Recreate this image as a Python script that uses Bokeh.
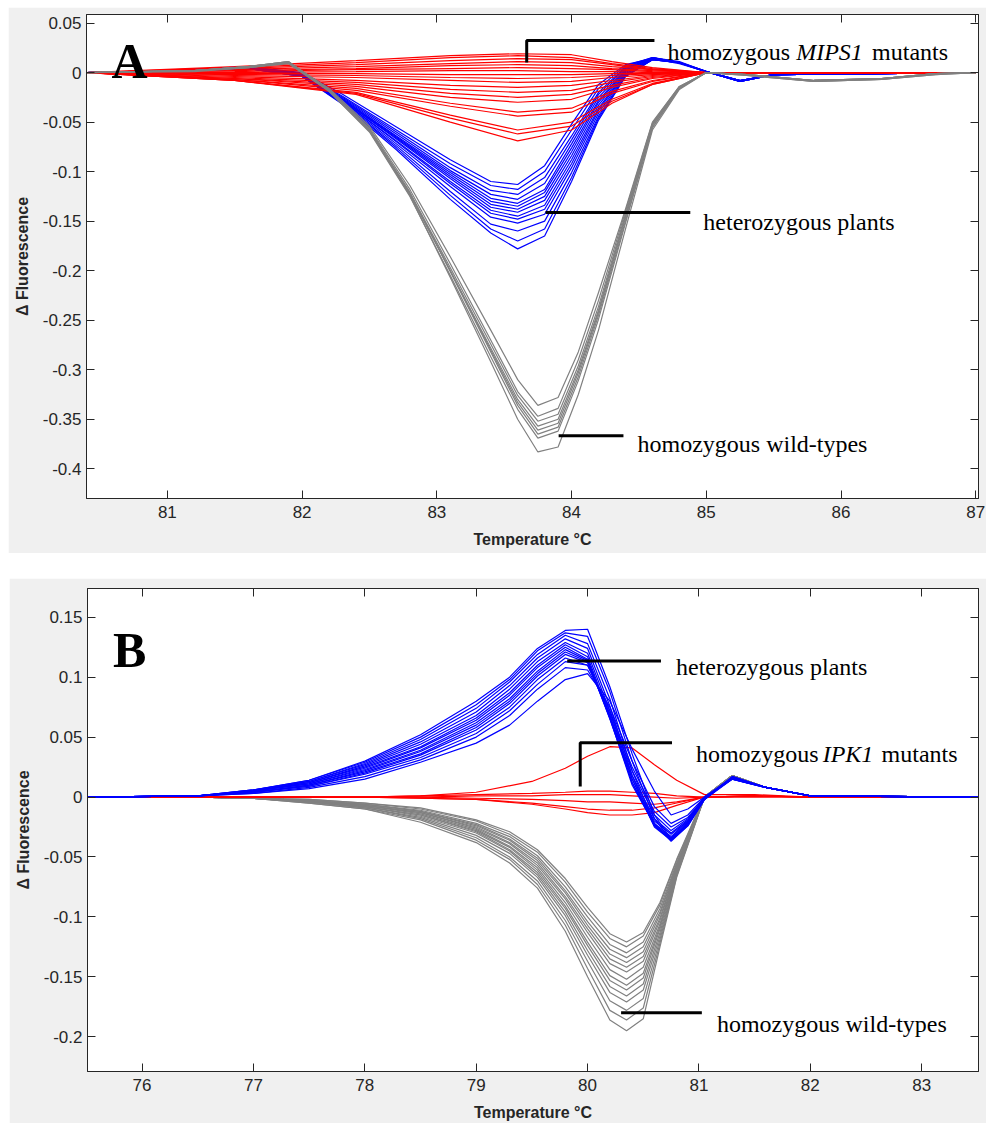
from bokeh.plotting import figure
from bokeh.models import ColumnDataSource, FixedTicker, LinearAxis, Label, Range1d
from bokeh.layouts import column
from bokeh.embed import file_html
from bokeh.resources import INLINE

# ---------------- Panel A data ----------------
A_X_TICKS = [81, 82, 83, 84, 85, 86, 87]
A_X_LABELS = ["81", "82", "83", "84", "85", "86", "87"]
A_Y_TICKS = [0.05, 0, -0.05, -0.1, -0.15, -0.2, -0.25, -0.3, -0.35, -0.4]
A_Y_LABELS = ["0.05", "0", "-0.05", "-0.1", "-0.15", "-0.2", "-0.25", "-0.3", "-0.35", "-0.4"]

A_T_GRAY = [80.4, 81.2, 81.6, 81.9, 82.2, 82.5, 82.8, 83.1, 83.4, 83.6, 83.75, 83.9,
            84.05, 84.2, 84.4, 84.6, 84.8, 85.0, 85.3, 85.8, 86.3, 86.7, 87.0]
A_GRAY = [
    [0, 0.002, 0.006, 0.010, -0.016, -0.054, -0.114, -0.186, -0.260, -0.310, -0.336, -0.328, -0.282, -0.222, -0.138, -0.050, -0.014, 0, -0.002, -0.008, -0.006, -0.001, 0],
    [0, 0.002, 0.006, 0.011, -0.017, -0.056, -0.118, -0.193, -0.270, -0.322, -0.347, -0.339, -0.290, -0.230, -0.140, -0.051, -0.014, 0, -0.002, -0.008, -0.006, -0.001, 0],
    [0, 0.002, 0.005, 0.010, -0.018, -0.058, -0.121, -0.197, -0.274, -0.326, -0.352, -0.345, -0.296, -0.236, -0.143, -0.052, -0.015, 0, -0.002, -0.009, -0.007, -0.001, 0],
    [0, 0.001, 0.005, 0.009, -0.019, -0.059, -0.123, -0.200, -0.278, -0.330, -0.357, -0.350, -0.300, -0.240, -0.145, -0.053, -0.015, 0, -0.003, -0.009, -0.007, -0.002, 0],
    [0, 0.002, 0.006, 0.010, -0.018, -0.058, -0.122, -0.200, -0.280, -0.333, -0.361, -0.354, -0.303, -0.242, -0.147, -0.053, -0.015, 0, -0.002, -0.008, -0.006, -0.001, 0],
    [0, 0.002, 0.006, 0.011, -0.017, -0.057, -0.121, -0.201, -0.282, -0.336, -0.365, -0.358, -0.307, -0.245, -0.150, -0.055, -0.016, 0, -0.002, -0.008, -0.006, -0.001, 0],
    [0, 0.002, 0.005, 0.010, -0.019, -0.060, -0.125, -0.205, -0.287, -0.340, -0.369, -0.362, -0.311, -0.249, -0.152, -0.056, -0.016, 0, -0.003, -0.009, -0.007, -0.002, 0],
    [0, 0.002, 0.006, 0.011, -0.018, -0.059, -0.124, -0.207, -0.292, -0.350, -0.383, -0.378, -0.325, -0.260, -0.158, -0.058, -0.017, 0, -0.002, -0.008, -0.006, -0.001, 0],
]

A_T_BLUE = [80.4, 81.0, 81.6, 82.0, 82.3, 82.7, 83.1, 83.4, 83.6, 83.8, 84.0, 84.2,
            84.4, 84.6, 84.8, 85.0, 85.25, 85.5, 87.0]
A_BLUE = [
    [0, 0.002, 0.006, 0.000, -0.022, -0.055, -0.088, -0.110, -0.113, -0.094, -0.052, -0.012, 0.008, 0.014, 0.009, 0.001, -0.008, -0.002, 0],
    [0, 0.002, 0.006, -0.001, -0.024, -0.058, -0.092, -0.114, -0.118, -0.100, -0.058, -0.016, 0.007, 0.015, 0.010, 0.001, -0.008, -0.002, 0],
    [0, 0.002, 0.005, -0.001, -0.025, -0.060, -0.096, -0.119, -0.123, -0.106, -0.064, -0.020, 0.006, 0.015, 0.010, 0.001, -0.009, -0.002, 0],
    [0, 0.002, 0.005, -0.002, -0.026, -0.062, -0.099, -0.123, -0.128, -0.112, -0.068, -0.022, 0.005, 0.014, 0.010, 0.001, -0.008, -0.002, 0],
    [0, 0.001, 0.005, -0.002, -0.027, -0.064, -0.101, -0.127, -0.132, -0.118, -0.072, -0.025, 0.004, 0.015, 0.010, 0.001, -0.008, -0.002, 0],
    [0, 0.002, 0.006, -0.002, -0.027, -0.065, -0.103, -0.130, -0.135, -0.121, -0.076, -0.028, 0.003, 0.014, 0.010, 0.001, -0.009, -0.002, 0],
    [0, 0.002, 0.005, -0.002, -0.028, -0.066, -0.105, -0.133, -0.138, -0.125, -0.080, -0.030, 0.002, 0.015, 0.011, 0.001, -0.008, -0.002, 0],
    [0, 0.001, 0.005, -0.003, -0.028, -0.067, -0.107, -0.136, -0.141, -0.129, -0.084, -0.033, 0.001, 0.014, 0.010, 0.001, -0.009, -0.002, 0],
    [0, 0.002, 0.005, -0.003, -0.029, -0.069, -0.110, -0.139, -0.145, -0.134, -0.088, -0.036, 0.000, 0.014, 0.010, 0.001, -0.008, -0.002, 0],
    [0, 0.001, 0.005, -0.003, -0.029, -0.070, -0.112, -0.142, -0.148, -0.138, -0.092, -0.038, -0.001, 0.013, 0.010, 0.001, -0.009, -0.002, 0],
    [0, 0.001, 0.004, -0.003, -0.030, -0.072, -0.115, -0.146, -0.152, -0.143, -0.096, -0.041, -0.002, 0.014, 0.010, 0.001, -0.008, -0.002, 0],
    [0, 0.001, 0.004, -0.004, -0.031, -0.074, -0.120, -0.153, -0.160, -0.150, -0.101, -0.044, -0.003, 0.013, 0.010, 0.001, -0.009, -0.002, 0],
    [0, 0.001, 0.004, -0.004, -0.031, -0.076, -0.124, -0.158, -0.170, -0.158, -0.106, -0.046, -0.004, 0.013, 0.010, 0.001, -0.009, -0.002, 0],
    [0, 0.001, 0.004, -0.004, -0.032, -0.078, -0.128, -0.162, -0.178, -0.165, -0.110, -0.048, -0.004, 0.013, 0.010, 0.001, -0.009, -0.002, 0],
]

A_T_RED = [80.4, 81.5, 82.4, 83.1, 83.6, 84.0, 84.3, 84.6, 85.0, 87.0]
A_RED = [
    [0, 0.006, 0.012, 0.017, 0.019, 0.018, 0.011, 0.005, 0.000, 0],
    [0, 0.005, 0.010, 0.015, 0.017, 0.015, 0.009, 0.004, 0.000, 0],
    [0, 0.004, 0.008, 0.012, 0.014, 0.013, 0.008, 0.003, 0.000, 0],
    [0, 0.003, 0.006, 0.009, 0.011, 0.010, 0.006, 0.003, 0.000, 0],
    [0, 0.002, 0.004, 0.007, 0.008, 0.007, 0.004, 0.002, 0.000, 0],
    [0, 0.001, 0.003, 0.004, 0.005, 0.004, 0.003, 0.001, 0.000, 0],
    [0, 0.000, 0.001, 0.002, 0.002, 0.001, 0.001, 0.000, 0.000, 0],
    [0, -0.001, -0.001, -0.002, -0.002, -0.002, -0.001, -0.001, 0.000, 0],
    [0, -0.002, -0.003, -0.005, -0.006, -0.005, -0.003, -0.001, 0.000, 0],
    [0, -0.003, -0.005, -0.008, -0.010, -0.009, -0.005, -0.002, 0.000, 0],
    [0, -0.004, -0.008, -0.013, -0.015, -0.013, -0.008, -0.003, 0.000, 0],
    [0, -0.005, -0.010, -0.017, -0.020, -0.018, -0.010, -0.004, 0.000, 0],
    [0, -0.006, -0.012, -0.021, -0.025, -0.022, -0.013, -0.005, 0.000, 0],
    [0, -0.006, -0.014, -0.025, -0.030, -0.027, -0.015, -0.006, 0.000, 0],
    [0, -0.007, -0.016, -0.031, -0.040, -0.036, -0.019, -0.008, 0.000, 0],
    [0, -0.007, -0.018, -0.034, -0.044, -0.040, -0.021, -0.009, 0.000, 0],
    [0, -0.008, -0.020, -0.043, -0.058, -0.050, -0.027, -0.011, 0.000, 0],
    [0, -0.008, -0.021, -0.046, -0.062, -0.054, -0.029, -0.012, 0.000, 0],
    [0, -0.008, -0.022, -0.050, -0.069, -0.058, -0.031, -0.012, 0.000, 0],
]

# annotation anchors, data units (x, y)
A_MIPS_BRACKET_X = [83.667, 83.667, 84.615]
A_MIPS_BRACKET_Y = [0.0101, 0.0323, 0.0323]
A_HET_LINE_X = [83.807, 84.881]
A_HET_LINE_Y = [-0.1414, -0.1414]
A_WT_LINE_X = [83.904, 84.385]
A_WT_LINE_Y = [-0.3667, -0.3667]

# ---------------- Panel B data ----------------
B_X_TICKS = [76, 77, 78, 79, 80, 81, 82, 83]
B_X_LABELS = ["76", "77", "78", "79", "80", "81", "82", "83"]
B_Y_TICKS = [0.15, 0.1, 0.05, 0, -0.05, -0.1, -0.15, -0.2]
B_Y_LABELS = ["0.15", "0.1", "0.05", "0", "-0.05", "-0.1", "-0.15", "-0.2"]

B_T_BLUE = [75.5, 76.5, 77.0, 77.5, 78.0, 78.5, 79.0, 79.3, 79.55, 79.8, 80.0, 80.2,
            80.4, 80.6, 80.75, 80.9, 81.05, 81.3, 81.6, 82.0, 83.5]
B_BLUE = [
    [0, 0.001, 0.003, 0.007, 0.015, 0.029, 0.045, 0.060, 0.080, 0.098, 0.103, 0.080, 0.040, 0.005, -0.015, -0.010, 0.000, 0.015, 0.008, 0.001, 0],
    [0, 0.001, 0.003, 0.008, 0.017, 0.031, 0.050, 0.068, 0.090, 0.108, 0.106, 0.075, 0.030, -0.008, -0.022, -0.015, 0.000, 0.016, 0.008, 0.001, 0],
    [0, 0.001, 0.004, 0.009, 0.019, 0.033, 0.053, 0.072, 0.094, 0.113, 0.110, 0.072, 0.025, -0.012, -0.025, -0.017, -0.001, 0.015, 0.008, 0.001, 0],
    [0, 0.001, 0.004, 0.009, 0.020, 0.035, 0.056, 0.075, 0.098, 0.116, 0.110, 0.070, 0.022, -0.015, -0.028, -0.018, -0.001, 0.016, 0.008, 0.001, 0],
    [0, 0.001, 0.004, 0.010, 0.021, 0.036, 0.058, 0.078, 0.101, 0.119, 0.112, 0.068, 0.018, -0.018, -0.030, -0.019, 0.000, 0.016, 0.008, 0.001, 0],
    [0, 0.001, 0.004, 0.010, 0.022, 0.038, 0.060, 0.080, 0.103, 0.121, 0.113, 0.066, 0.015, -0.020, -0.031, -0.020, -0.001, 0.015, 0.008, 0.001, 0],
    [0, 0.001, 0.005, 0.011, 0.023, 0.039, 0.062, 0.082, 0.105, 0.123, 0.114, 0.065, 0.012, -0.022, -0.033, -0.020, -0.001, 0.016, 0.008, 0.001, 0],
    [0, 0.001, 0.005, 0.011, 0.024, 0.041, 0.064, 0.085, 0.108, 0.125, 0.115, 0.066, 0.010, -0.023, -0.034, -0.021, -0.001, 0.016, 0.008, 0.001, 0],
    [0, 0.001, 0.005, 0.012, 0.025, 0.042, 0.066, 0.087, 0.110, 0.127, 0.117, 0.068, 0.012, -0.024, -0.035, -0.022, -0.002, 0.015, 0.008, 0.001, 0],
    [0, 0.001, 0.005, 0.012, 0.026, 0.044, 0.068, 0.090, 0.113, 0.129, 0.120, 0.072, 0.015, -0.025, -0.036, -0.022, -0.001, 0.016, 0.008, 0.001, 0],
    [0, 0.001, 0.005, 0.013, 0.027, 0.046, 0.071, 0.093, 0.116, 0.132, 0.124, 0.076, 0.018, -0.024, -0.036, -0.023, -0.002, 0.016, 0.008, 0.001, 0],
    [0, 0.001, 0.006, 0.013, 0.028, 0.048, 0.074, 0.096, 0.119, 0.135, 0.128, 0.082, 0.022, -0.022, -0.037, -0.024, -0.002, 0.017, 0.008, 0.001, 0],
    [0, 0.001, 0.006, 0.014, 0.029, 0.050, 0.077, 0.098, 0.122, 0.137, 0.134, 0.088, 0.030, -0.018, -0.036, -0.024, -0.002, 0.017, 0.008, 0.001, 0],
    [0, 0.001, 0.006, 0.014, 0.030, 0.052, 0.080, 0.100, 0.124, 0.139, 0.140, 0.092, 0.036, -0.015, -0.035, -0.023, -0.001, 0.017, 0.008, 0.001, 0],
]

B_T_GRAY = [75.5, 76.5, 77.0, 77.5, 78.0, 78.5, 79.0, 79.3, 79.55, 79.8, 80.0, 80.2,
            80.35, 80.5, 80.65, 80.8, 80.95, 81.05, 81.3, 81.6, 82.0, 83.5]
B_GRAY = [
    [0, 0, -0.001, -0.002, -0.005, -0.009, -0.019, -0.029, -0.044, -0.068, -0.092, -0.114, -0.121, -0.113, -0.088, -0.052, -0.020, 0.000, 0.018, 0.008, 0.001, 0],
    [0, 0, -0.001, -0.002, -0.005, -0.010, -0.020, -0.031, -0.046, -0.071, -0.096, -0.118, -0.125, -0.116, -0.090, -0.053, -0.021, 0.000, 0.018, 0.008, 0.001, 0],
    [0, 0, -0.001, -0.003, -0.006, -0.011, -0.022, -0.033, -0.049, -0.075, -0.100, -0.123, -0.130, -0.121, -0.093, -0.055, -0.021, 0.000, 0.018, 0.008, 0.001, 0],
    [0, 0, -0.001, -0.003, -0.006, -0.012, -0.023, -0.035, -0.051, -0.078, -0.104, -0.127, -0.134, -0.125, -0.096, -0.056, -0.022, 0.000, 0.018, 0.008, 0.001, 0],
    [0, 0, -0.001, -0.003, -0.006, -0.012, -0.024, -0.036, -0.053, -0.080, -0.107, -0.131, -0.138, -0.129, -0.098, -0.057, -0.022, 0.000, 0.018, 0.008, 0.001, 0],
    [0, 0, -0.001, -0.003, -0.007, -0.013, -0.025, -0.038, -0.055, -0.083, -0.110, -0.135, -0.142, -0.133, -0.101, -0.058, -0.023, 0.000, 0.018, 0.008, 0.001, 0],
    [0, 0, -0.001, -0.003, -0.007, -0.013, -0.026, -0.039, -0.057, -0.085, -0.113, -0.139, -0.146, -0.137, -0.103, -0.059, -0.023, 0.000, 0.018, 0.008, 0.001, 0],
    [0, 0, -0.001, -0.003, -0.007, -0.014, -0.027, -0.041, -0.059, -0.088, -0.117, -0.144, -0.152, -0.142, -0.106, -0.060, -0.024, 0.000, 0.018, 0.008, 0.001, 0],
    [0, 0, -0.001, -0.003, -0.008, -0.015, -0.028, -0.042, -0.061, -0.091, -0.121, -0.149, -0.157, -0.147, -0.108, -0.061, -0.024, 0.000, 0.018, 0.008, 0.001, 0],
    [0, 0, -0.001, -0.004, -0.008, -0.015, -0.029, -0.044, -0.063, -0.093, -0.124, -0.153, -0.161, -0.151, -0.110, -0.062, -0.025, 0.000, 0.018, 0.008, 0.001, 0],
    [0, 0, -0.001, -0.004, -0.008, -0.016, -0.030, -0.045, -0.065, -0.096, -0.128, -0.158, -0.166, -0.156, -0.113, -0.063, -0.025, 0.000, 0.018, 0.008, 0.001, 0],
    [0, 0, -0.001, -0.004, -0.009, -0.017, -0.032, -0.047, -0.067, -0.099, -0.132, -0.163, -0.171, -0.161, -0.116, -0.064, -0.025, 0.000, 0.018, 0.008, 0.001, 0],
    [0, 0, -0.001, -0.004, -0.009, -0.018, -0.034, -0.050, -0.070, -0.103, -0.137, -0.170, -0.178, -0.168, -0.119, -0.065, -0.026, 0.000, 0.018, 0.008, 0.001, 0],
    [0, 0, -0.001, -0.005, -0.010, -0.019, -0.036, -0.052, -0.073, -0.107, -0.143, -0.178, -0.186, -0.176, -0.122, -0.066, -0.026, 0.000, 0.018, 0.008, 0.001, 0],
    [0, 0, -0.001, -0.005, -0.010, -0.021, -0.038, -0.055, -0.076, -0.112, -0.150, -0.186, -0.195, -0.185, -0.125, -0.067, -0.027, 0.000, 0.018, 0.008, 0.001, 0],
]

B_T_RED = [75.5, 77.0, 78.0, 78.5, 79.0, 79.5, 79.8, 80.0, 80.2, 80.4, 80.6, 80.8,
           81.05, 81.5, 82.0, 83.5]
B_RED = [
    [0, 0, 0.000, 0.001, 0.004, 0.013, 0.024, 0.034, 0.042, 0.041, 0.027, 0.014, 0.002, 0.002, 0.000, 0],
    [0, 0, 0.000, -0.001, -0.002, -0.006, -0.010, -0.013, -0.015, -0.015, -0.013, -0.007, 0.000, 0.001, 0.000, 0],
    [0, 0, 0.000, -0.001, -0.002, -0.005, -0.008, -0.010, -0.011, -0.011, -0.009, -0.005, 0.000, 0.001, 0.000, 0],
    [0, 0, 0.000, 0.001, 0.002, 0.003, 0.004, 0.005, 0.005, 0.004, 0.003, 0.001, 0.000, 0.001, 0.000, 0],
    [0, 0, 0.000, 0.000, 0.001, 0.001, 0.002, 0.002, 0.002, 0.001, 0.000, -0.001, 0.000, 0.001, 0.000, 0],
    [0, 0, 0.000, 0.000, -0.001, -0.002, -0.003, -0.004, -0.004, -0.005, -0.006, -0.004, 0.000, 0.000, 0.000, 0],
]

B_IPK_BRACKET_X = [79.934, 79.934, 80.758]
B_IPK_BRACKET_Y = [0.00873, 0.0453, 0.0453]
B_HET_LINE_X = [79.817, 80.659]
B_HET_LINE_Y = [0.1135, 0.1135]
B_WT_LINE_X = [80.301, 81.026]
B_WT_LINE_Y = [-0.180, -0.180]

# ---------------- styling ----------------
AXC = "#262626"
RED = "#ff0000"
BLUE = "#0000ff"
GRAY = "#808080"
SERIF = "Liberation Serif"
SANS = "Liberation Sans"


def style_axis(ax, ticks, labels, show, standoff):
    ax.ticker = FixedTicker(ticks=ticks)
    if show:
        ax.major_label_overrides = dict(zip(ticks, labels))
        ax.major_label_text_font_size = "17px"
    else:
        ax.major_label_overrides = {t: "" for t in ticks}
        ax.major_label_text_font_size = "0px"
    ax.major_label_standoff = standoff if show else 0
    ax.major_tick_in = 8
    ax.major_tick_out = 0
    ax.minor_tick_line_color = None
    ax.major_tick_line_color = AXC
    ax.axis_line_color = AXC
    ax.major_label_text_font = SANS
    ax.major_label_text_color = AXC


def make_panel(width, height, xr, yr, borders, margin, xt, xl, yt, yl):
    p = figure(width=width, height=height, x_range=Range1d(*xr), y_range=Range1d(*yr),
               output_backend="svg", toolbar_location=None,
               min_border_left=borders[0], min_border_right=borders[1],
               min_border_top=borders[2], min_border_bottom=borders[3],
               border_fill_color="#f0f0f0", background_fill_color="white",
               outline_line_color=AXC, margin=margin)
    p.grid.visible = False
    bottom = p.xaxis[0]
    left = p.yaxis[0]
    style_axis(bottom, xt, xl, True, 7)
    style_axis(left, yt, yl, True, 5)
    bottom.axis_label = "Temperature \u00b0C"
    left.axis_label = "\u0394 Fluorescence"
    for ax, st in ((bottom, 10), (left, 9)):
        ax.axis_label_text_font = SANS
        ax.axis_label_text_font_style = "bold"
        ax.axis_label_text_font_size = "16px"
        ax.axis_label_text_color = AXC
        ax.axis_label_standoff = st
    top = LinearAxis()
    style_axis(top, xt, xl, False, 0)
    p.add_layout(top, "above")
    right = LinearAxis()
    style_axis(right, yt, yl, False, 0)
    p.add_layout(right, "right")
    return p


def add_group(p, xgrid, curves, color):
    src = ColumnDataSource(dict(xs=[xgrid] * len(curves), ys=curves))
    p.multi_line(xs="xs", ys="ys", source=src, line_color=color, line_width=1.2)


def add_text(p, x, y, text, style="normal", size="24px"):
    p.add_layout(Label(x=x, y=y, text=text, text_font=SERIF, text_font_style=style,
                       text_font_size=size, text_color="black",
                       text_align="left", text_baseline="alphabetic"))


# ---------------- Panel A ----------------
pA = make_panel(978, 546, (80.4, 87.02), (-0.430, 0.0586), (77, 8, 7, 55), (7, 0, 0, 8),
                A_X_TICKS, A_X_LABELS, A_Y_TICKS, A_Y_LABELS)
add_group(pA, A_T_BLUE, A_BLUE, BLUE)
add_group(pA, A_T_RED, A_RED, RED)
add_group(pA, A_T_GRAY, A_GRAY, GRAY)
pA.line(A_MIPS_BRACKET_X, A_MIPS_BRACKET_Y, line_color="black", line_width=3)
pA.line(A_HET_LINE_X, A_HET_LINE_Y, line_color="black", line_width=3)
pA.line(A_WT_LINE_X, A_WT_LINE_Y, line_color="black", line_width=3)
add_text(pA, 80.585, 0.0121, "A", "bold", "50px")
add_text(pA, 84.711, 0.0212, "homozygous")
add_text(pA, 85.667, 0.0212, "MIPS1", "italic")
add_text(pA, 86.230, 0.0212, "mutants")
add_text(pA, 84.978, -0.1512, "heterozygous plants")
add_text(pA, 84.489, -0.375, "homozygous wild-types")

# ---------------- Panel B ----------------
pB = make_panel(977, 545, (75.51, 83.51), (-0.229, 0.174), (78, 7, 10, 50), (25, 0, 0, 9),
                B_X_TICKS, B_X_LABELS, B_Y_TICKS, B_Y_LABELS)
add_group(pB, B_T_GRAY, B_GRAY, GRAY)
add_group(pB, B_T_RED, B_RED, RED)
add_group(pB, B_T_BLUE, B_BLUE, BLUE)
pB.line(B_IPK_BRACKET_X, B_IPK_BRACKET_Y, line_color="black", line_width=3)
pB.line(B_HET_LINE_X, B_HET_LINE_Y, line_color="black", line_width=3)
pB.line(B_WT_LINE_X, B_WT_LINE_Y, line_color="black", line_width=3)
add_text(pB, 75.74, 0.1226, "B", "bold", "50px")
add_text(pB, 80.973, 0.0359, "homozygous")
add_text(pB, 82.111, 0.0359, "IPK1", "italic")
add_text(pB, 82.640, 0.0359, "mutants")
add_text(pB, 80.794, 0.1087, "heterozygous plants")
add_text(pB, 81.161, -0.1891, "homozygous wild-types")

layout = column(pA, pB)
open("out.html", "w").write(file_html(layout, INLINE))
